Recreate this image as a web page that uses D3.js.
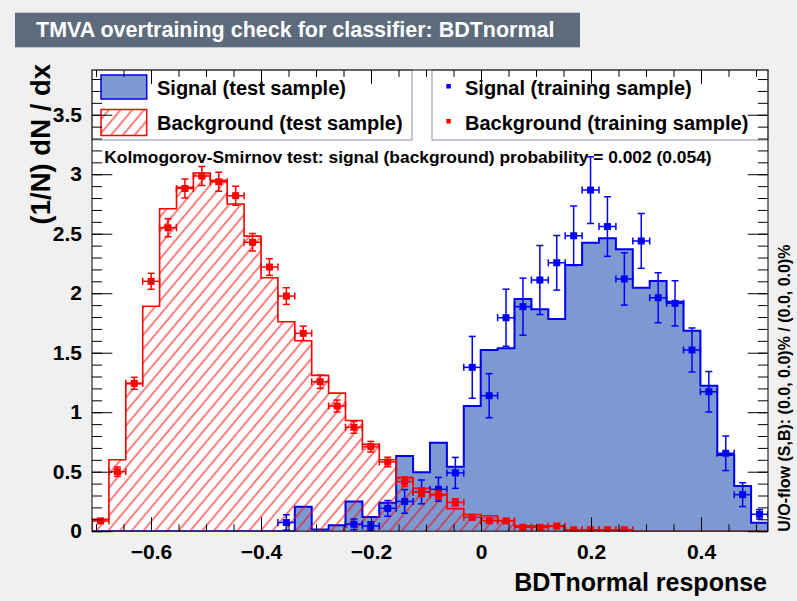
<!DOCTYPE html>
<html><head><meta charset="utf-8">
<script src="https://cdn.jsdelivr.net/npm/d3@7"></script>
<style>
body{margin:0;background:#f0f0f0;}
svg{display:block;}
text{font-family:"Liberation Sans",Arial,Helvetica,sans-serif;font-weight:bold;}
</style>
</head><body>
<svg id="c" width="797" height="601"></svg>
<script>
// ---------------- data ----------------
const xMin = -0.7073, xMax = 0.5218, nBins = 40, yMax = 3.876;

const sigTest = [0,0,0,0,0,0,0,0,0,0,
  0,0,0.206,0.015,0.05,0.25,0.12,0.24,0.633,0.495,
  0.744,0.542,1.052,1.523,1.537,1.951,1.865,1.783,2.237,2.424,
  2.461,2.369,2.046,2.103,1.929,1.685,1.223,0.64,0.38,0.072];

const bkgTest = [0.10,0.60,1.24,1.89,2.71,2.89,3.01,2.95,2.75,2.48,
  2.13,1.76,1.60,1.31,1.16,0.93,0.73,0.60,0.45,0.36,
  0.31,0.19,0.14,0.13,0.09,0.045,0.045,0.04,0.012,0.012,
  0.012,0.01,0,0,0,0,0,0,0,0];

const sigTrain = [null,null,null,null,null,null,null,null,null,null,
  null,0.073,null,null,null,0.058,0.044,0.192,0.25,0.33,
  0.352,0.49,1.377,1.139,1.794,1.887,2.111,2.256,2.483,2.867,
  2.56,2.12,2.439,1.962,1.915,1.523,1.172,0.655,0.307,0.142];
const sigTrainErr = [0,0,0,0,0,0,0,0,0,0,
  0,0.065,0,0,0,0.045,0.035,0.066,0.1,0.1,
  0.1,0.13,0.26,0.185,0.24,0.24,0.29,0.23,0.25,0.28,
  0.25,0.22,0.23,0.21,0.19,0.185,0.17,0.145,0.1,0.04];

const bkgTrain = [0.086,0.50,1.243,2.10,2.55,2.88,2.985,2.937,2.82,2.428,
  2.22,1.976,1.663,1.256,1.052,0.873,0.71,0.582,0.416,0.327,
  0.304,0.242,0.117,0.088,0.086,0.033,0.033,0.044,0.012,0.012,
  0.012,0.012,null,null,null,null,null,null,null,null];
const bkgTrainErr = [0.02,0.04,0.05,0.067,0.075,0.08,0.08,0.08,0.08,0.073,
  0.07,0.07,0.06,0.056,0.05,0.05,0.045,0.04,0.04,0.035,
  0.035,0.03,0.02,0.02,0.02,0.015,0.015,0.015,0.01,0.01,
  0.01,0.01,0,0,0,0,0,0,0,0];

const xTickValues = [-0.6,-0.4,-0.2,0,0.2,0.4];
const xTickLabels = ["\u22120.6","\u22120.4","\u22120.2","0","0.2","0.4"];
const yTickValues = [0,0.5,1,1.5,2,2.5,3,3.5];
const yTickLabels = ["0","0.5","1","1.5","2","2.5","3","3.5"];

const titleText = "TMVA overtraining check for classifier: BDTnormal";
const legendLeft = ["Signal (test sample)","Background (test sample)"];
const legendRight = ["Signal (training sample)","Background (training sample)"];
const ksText = "Kolmogorov-Smirnov test: signal (background) probability = 0.002 (0.054)";
const xTitle = "BDTnormal response";
const yTitle = "(1/N) dN / dx";
const uoText = "U/O-flow (S,B): (0.0, 0.0)% / (0.0, 0.0)%";

// ---------------- layout ----------------
const C = {sigFill:"#7d99d1", sigLine:"#0000ee", sigMark:"#0000ff", bkg:"#ff0000",
  title:"#5d6b7d", legBorder:"#9aa6b6"};
const L = 92, R = 768, T = 70, B = 531.2;

const svg = d3.select("#c");
svg.append("rect").attr("width",797).attr("height",601).attr("fill","#f0f0f0");

const defs = svg.append("defs");
const pat = defs.append("pattern").attr("id","hatch").attr("patternUnits","userSpaceOnUse")
  .attr("width",9).attr("height",20).attr("patternTransform","rotate(40)");
pat.append("line").attr("x1",1).attr("y1",0).attr("x2",1).attr("y2",20)
  .attr("stroke",C.bkg).attr("stroke-width",1);
defs.append("clipPath").attr("id","frameClip").append("rect")
  .attr("x",L).attr("y",T).attr("width",R-L).attr("height",B-T);

// title
svg.append("rect").attr("x",15).attr("y",12.7).attr("width",565).attr("height",34.6).attr("fill",C.title);
svg.append("text").attr("x",36).attr("y",36.5).attr("fill","#fff").attr("font-size",21.5).text(titleText);

// frame
svg.append("rect").attr("x",L).attr("y",T).attr("width",R-L).attr("height",B-T).attr("fill","#ffffff");

const x = d3.scaleLinear().domain([xMin,xMax]).range([L,R]);
const y = d3.scaleLinear().domain([0,yMax]).range([B,T]);
const bw = (xMax-xMin)/nBins;
const edges = d3.range(nBins+1).map(i => xMin + i*bw);
const stepData = vals => vals.map((v,i)=>[edges[i],v]).concat([[edges[nBins], vals[nBins-1]]]);

const plot = svg.append("g").attr("clip-path","url(#frameClip)");
const area = d3.area().curve(d3.curveStepAfter).x(d=>x(d[0])).y0(y(0)).y1(d=>y(d[1]));

function outline(vals){
  const o=[[edges[0],0]];
  vals.forEach((v,i)=>{o.push([edges[i],v]);o.push([edges[i+1],v]);});
  o.push([edges[nBins],0]);
  return d3.line().x(d=>x(d[0])).y(d=>y(d[1]))(o);
}

// signal test
plot.append("path").attr("d",area(stepData(sigTest))).attr("fill",C.sigFill);
plot.append("path").attr("d",outline(sigTest)).attr("fill","none").attr("stroke",C.sigLine).attr("stroke-width",2);
// background test
plot.append("path").attr("d",area(stepData(bkgTest))).attr("fill","url(#hatch)");
plot.append("path").attr("d",outline(bkgTest)).attr("fill","none").attr("stroke",C.bkg).attr("stroke-width",1.6);

// training points
function drawPoints(vals, errs, color){
  const g = plot.append("g").attr("stroke",color).attr("stroke-width",1.5).attr("fill",color);
  vals.forEach((v,i)=>{
    if(v===null) return;
    const cx = x(edges[i]+bw/2), cy = y(v);
    const lo = y(Math.max(0,v-errs[i])), hi = y(v+errs[i]);
    const xl = x(edges[i]), xr = x(edges[i+1]);
    const cap = 3.5;
    g.append("line").attr("x1",cx).attr("x2",cx).attr("y1",lo).attr("y2",hi);
    g.append("line").attr("x1",cx-cap).attr("x2",cx+cap).attr("y1",hi).attr("y2",hi);
    if(v-errs[i]>0) g.append("line").attr("x1",cx-cap).attr("x2",cx+cap).attr("y1",lo).attr("y2",lo);
    g.append("line").attr("x1",xl).attr("x2",xr).attr("y1",cy).attr("y2",cy);
    g.append("line").attr("x1",xl).attr("x2",xl).attr("y1",cy-cap).attr("y2",cy+cap);
    g.append("line").attr("x1",xr).attr("x2",xr).attr("y1",cy-cap).attr("y2",cy+cap);
    g.append("rect").attr("x",cx-3.5).attr("y",cy-3.5).attr("width",7).attr("height",7).attr("stroke","none");
  });
}
drawPoints(sigTrain, sigTrainErr, C.sigMark);
drawPoints(bkgTrain, bkgTrainErr, C.bkg);

// axes (ticks inside frame)
const xMinor = d3.range(-14,11).map(i=>+(i*0.05).toFixed(2)).filter(v=>v>=xMin&&v<=xMax);
const yMinor = d3.range(0,39).map(i=>+(i*0.1).toFixed(1)).filter(v=>v<=yMax);
const xmaj = 13.9, xmin_ = 6.9, ymaj = 20.3, ymin_ = 10.1;

function styleAxis(g){ g.attr("font-family",null); g.select(".domain").remove(); g.selectAll(".tick line").attr("stroke","#000"); }

svg.append("g").attr("transform",`translate(0,${B})`)
  .call(d3.axisBottom(x).tickValues(xMinor).tickSize(-xmin_).tickFormat("")).call(styleAxis);
svg.append("g").attr("transform",`translate(0,${B})`)
  .call(d3.axisBottom(x).tickValues(xTickValues).tickSize(-xmaj).tickPadding(13)
    .tickFormat((d,i)=>xTickLabels[i])).call(styleAxis)
  .selectAll("text").attr("font-size",21).attr("fill","#000");
svg.append("g").attr("transform",`translate(${L},0)`)
  .call(d3.axisLeft(y).tickValues(yMinor).tickSize(-ymin_).tickFormat("")).call(styleAxis);
svg.append("g").attr("transform",`translate(${L},0)`)
  .call(d3.axisLeft(y).tickValues(yTickValues).tickSize(-ymaj).tickPadding(10)
    .tickFormat((d,i)=>yTickLabels[i])).call(styleAxis)
  .selectAll("text").attr("font-size",21).attr("fill","#000");

// legends
const lg1 = svg.append("g");
lg1.append("rect").attr("x",L).attr("y",T).attr("width",320).attr("height",70)
  .attr("fill","#fff").attr("stroke",C.legBorder).attr("stroke-width",1.2);
lg1.append("rect").attr("x",101).attr("y",75).attr("width",45.7).attr("height",24)
  .attr("fill",C.sigFill).attr("stroke",C.sigLine).attr("stroke-width",1.5);
lg1.append("rect").attr("x",101).attr("y",109.5).attr("width",45.7).attr("height",26)
  .attr("fill","url(#hatch)").attr("stroke",C.bkg).attr("stroke-width",1.5);
lg1.append("text").attr("x",157).attr("y",95).attr("font-size",20).text(legendLeft[0]);
lg1.append("text").attr("x",157).attr("y",129.5).attr("font-size",20).text(legendLeft[1]);

const lg2 = svg.append("g");
lg2.append("rect").attr("x",432).attr("y",T).attr("width",R-432).attr("height",70)
  .attr("fill","#fff").attr("stroke",C.legBorder).attr("stroke-width",1.2);
lg2.append("rect").attr("x",446.3).attr("y",84).attr("width",4.5).attr("height",4.5).attr("fill",C.sigMark);
lg2.append("rect").attr("x",446.3).attr("y",119).attr("width",4.5).attr("height",4.5).attr("fill",C.bkg);
lg2.append("text").attr("x",465).attr("y",95).attr("font-size",20).text(legendRight[0]);
lg2.append("text").attr("x",465).attr("y",129.5).attr("font-size",20).text(legendRight[1]);

// frame border and ticks on top
svg.append("rect").attr("x",L).attr("y",T).attr("width",R-L).attr("height",B-T)
  .attr("fill","none").attr("stroke","#000").attr("stroke-width",1);
svg.append("g").attr("transform",`translate(0,${T})`)
  .call(d3.axisTop(x).tickValues(xMinor).tickSize(-xmin_).tickFormat("")).call(styleAxis);
svg.append("g").attr("transform",`translate(0,${T})`)
  .call(d3.axisTop(x).tickValues(xTickValues).tickSize(-xmaj).tickFormat("")).call(styleAxis);
svg.append("g").attr("transform",`translate(${R},0)`)
  .call(d3.axisRight(y).tickValues(yMinor).tickSize(-ymin_).tickFormat("")).call(styleAxis);
svg.append("g").attr("transform",`translate(${R},0)`)
  .call(d3.axisRight(y).tickValues(yTickValues).tickSize(-ymaj).tickFormat("")).call(styleAxis);
svg.append("g").attr("transform",`translate(${L},0)`)
  .call(d3.axisLeft(y).tickValues(yMinor.filter(v=>v>3.2)).tickSize(-ymin_).tickFormat("")).call(styleAxis);
svg.append("g").attr("transform",`translate(${L},0)`)
  .call(d3.axisLeft(y).tickValues([3.5]).tickSize(-ymaj).tickFormat("")).call(styleAxis);

// KS text
svg.append("text").attr("x",104.3).attr("y",163).attr("font-size",17.4).text(ksText);

// axis titles
svg.append("text").attr("x",767).attr("y",591).attr("text-anchor","end").attr("font-size",25).text(xTitle);
svg.append("text").attr("transform","translate(50,64) rotate(-90)").attr("text-anchor","end")
  .attr("font-size",27.5).text(yTitle);
svg.append("text").attr("transform","translate(790,531.7) rotate(-90)").attr("text-anchor","start")
  .attr("font-size",16).text(uoText);
</script>
</body></html>
